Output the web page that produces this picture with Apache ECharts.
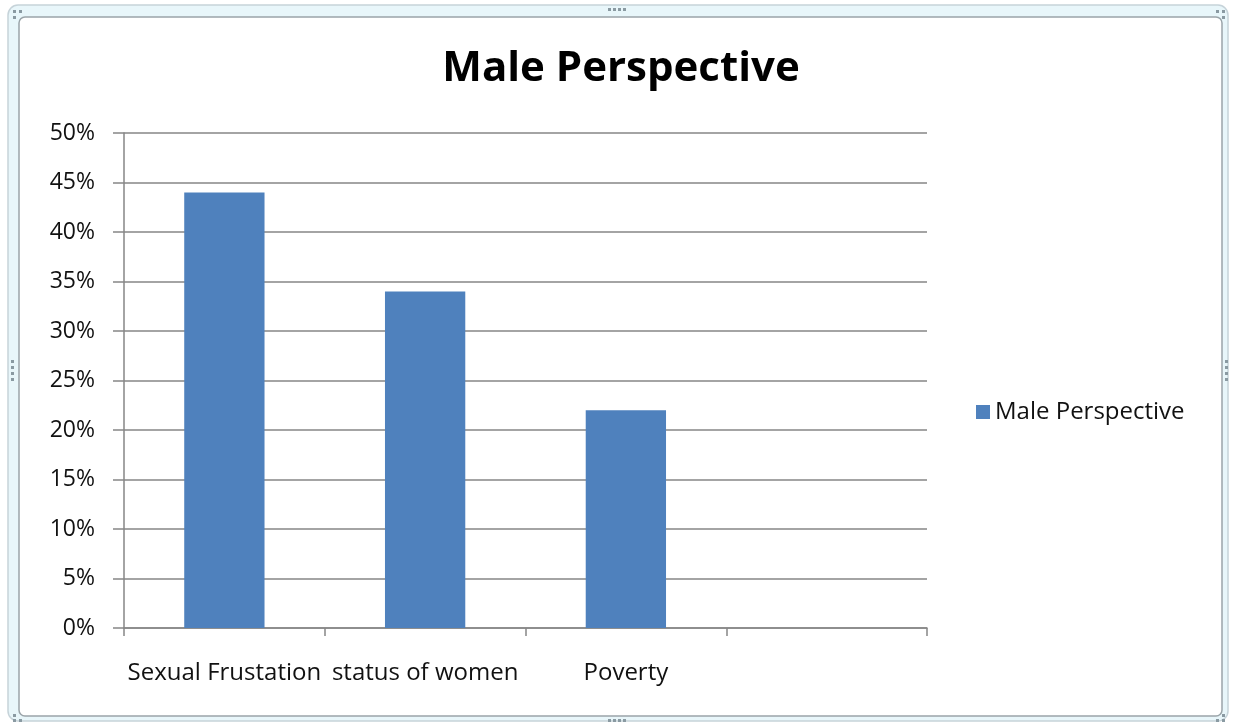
<!DOCTYPE html>
<html>
<head>
<meta charset="utf-8">
<script src="https://cdn.jsdelivr.net/npm/echarts@6/dist/echarts.min.js"></script>
<style>
  html, body { margin: 0; padding: 0; background: #ffffff; }
  #chart { width: 1233px; height: 725px; }
</style>
</head>
<body>
<div id="chart"></div>
<script>
// Chart data
const chartTitle = 'Male Perspective';
const seriesName = 'Male Perspective';
const categories = ['Sexual Frustation', 'status of women', 'Poverty', ''];
const values = [44, 34, 22, '-'];
const yTicks = { min: 0, max: 50, interval: 5 };

const FONT = '"Open Sans", Lato, sans-serif';
const chart = echarts.init(document.getElementById('chart'), null, { renderer: 'canvas' });

// small grip dots drawn on the chart frame
function dots(points) {
  return points.map(p => ({
    type: 'rect', silent: true, z: -1,
    shape: { x: p[0], y: p[1], width: 3, height: 3 },
    style: { fill: '#8a9aa2' }
  }));
}

const frame = [
  {
    type: 'rect', silent: true, z: -3,
    shape: { x: 8, y: 5, width: 1220, height: 716, r: 10 },
    style: { fill: '#e8f6fa', stroke: '#c6d3d9', lineWidth: 1.5 }
  },
  {
    type: 'rect', silent: true, z: -2,
    shape: { x: 19, y: 17, width: 1203, height: 699, r: 6 },
    style: { fill: '#ffffff', stroke: '#9aa4a9', lineWidth: 1.5 }
  }
].concat(dots([
  [13, 10], [19, 10], [13, 16],
  [1216, 10], [1222, 10], [1222, 16],
  [13, 714], [13, 719], [19, 719],
  [1222, 714], [1222, 719], [1216, 719],
  [608, 8], [613, 8], [618, 8], [623, 8],
  [608, 719], [613, 719], [618, 719], [623, 719],
  [11, 360], [11, 366], [11, 372], [11, 378],
  [1225, 360], [1225, 366], [1225, 372], [1225, 378]
]));

chart.setOption({
  animation: false,
  backgroundColor: '#ffffff',
  graphic: frame,
  title: {
    text: chartTitle,
    left: 616, top: 43, textAlign: 'center',
    textStyle: { fontFamily: FONT, fontWeight: 'bold', fontSize: 42, color: '#000000' }
  },
  legend: {
    data: [seriesName],
    left: 971, top: 395,
    icon: 'rect', itemWidth: 14, itemHeight: 14, itemGap: 7,
    textStyle: { fontFamily: FONT, fontSize: 24, color: '#111111', padding: [0, 0, 0, 0] }
  },
  grid: { left: 124, right: 306, top: 133, bottom: 97, containLabel: false },
  xAxis: {
    type: 'category',
    data: categories,
    boundaryGap: true,
    axisLine: { lineStyle: { color: '#868686', width: 1.5 } },
    axisTick: { show: true, length: 8, inside: false, alignWithLabel: false, lineStyle: { color: '#868686', width: 1.5 } },
    axisLabel: { interval: 0, margin: 33, fontFamily: FONT, fontSize: 24, color: '#111111' },
    splitLine: { show: false }
  },
  yAxis: {
    type: 'value',
    min: yTicks.min, max: yTicks.max, interval: yTicks.interval,
    axisLine: { show: true, lineStyle: { color: '#868686', width: 1.5 } },
    axisTick: { show: true, length: 11, lineStyle: { color: '#868686', width: 1.5 } },
    axisLabel: { formatter: '{value}%', margin: 29, fontFamily: FONT, fontSize: 23, color: '#111111' },
    splitLine: { show: true, lineStyle: { color: '#868686', width: 1.5 } }
  },
  series: [{
    name: seriesName,
    type: 'bar',
    data: values,
    barWidth: '40%',
    itemStyle: { color: '#4f81bd' }
  }]
});
</script>
</body>
</html>
